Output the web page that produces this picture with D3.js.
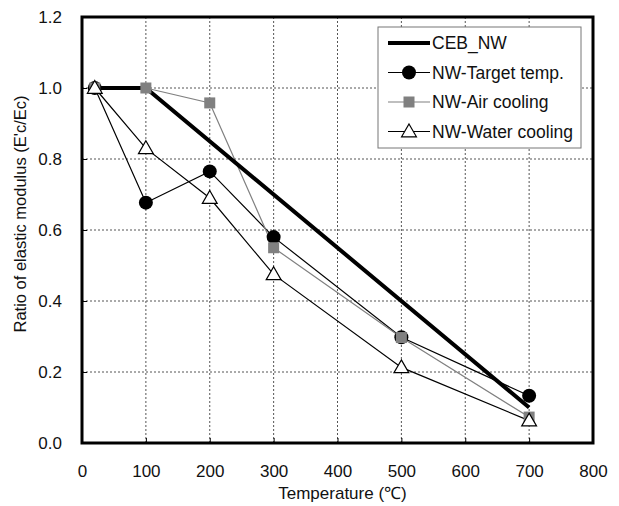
<!DOCTYPE html>
<html>
<head>
<meta charset="utf-8">
<script src="https://cdn.jsdelivr.net/npm/d3@7"></script>
<style>
  body { margin: 0; background: #fff; }
  text { font-family: "Liberation Sans", Arial, sans-serif; fill: #111; }
</style>
</head>
<body>
<div id="chart"></div>
<script>
var temps = [20, 100, 200, 300, 500, 700];
var ceb_temps = [20, 100, 700];
var ceb_nw = [1.0, 1.0, 0.1];
var target_temp = [1.0, 0.677, 0.765, 0.58, 0.298, 0.133];
var air_cooling = [1.0, 1.0, 0.958, 0.55, 0.297, 0.073];
var water_cooling = [1.0, 0.83, 0.69, 0.475, 0.213, 0.063];
var x_ticks = [0, 100, 200, 300, 400, 500, 600, 700, 800];
var y_ticks = [0, 0.2, 0.4, 0.6, 0.8, 1.0, 1.2];
var legend_names = ['CEB_NW', 'NW-Target temp.', 'NW-Air cooling', 'NW-Water cooling'];

var width = 619, height = 506;
var pLeft = 82, pRight = 593, pTop = 17, pBottom = 443;

var svg = d3.select('#chart').append('svg')
  .attr('width', width)
  .attr('height', height);

var x = d3.scaleLinear().domain([0, 800]).range([pLeft, pRight]);
var y = d3.scaleLinear().domain([0, 1.2]).range([pBottom, pTop]);

// grid
svg.append('g').selectAll('line')
  .data(x_ticks.slice(1, -1)).enter().append('line')
  .attr('x1', d => x(d)).attr('x2', d => x(d))
  .attr('y1', pTop).attr('y2', pBottom)
  .attr('stroke', '#555').attr('stroke-width', 1)
  .attr('stroke-dasharray', '2,2');

svg.append('g').selectAll('line')
  .data(y_ticks.slice(1, -1)).enter().append('line')
  .attr('y1', d => y(d)).attr('y2', d => y(d))
  .attr('x1', pLeft).attr('x2', pRight)
  .attr('stroke', '#555').attr('stroke-width', 1)
  .attr('stroke-dasharray', '2,2');

// axes
var xAxis = svg.append('g')
  .attr('transform', `translate(0, ${pBottom})`)
  .call(d3.axisBottom(x).tickValues(x_ticks).tickSize(-5).tickPadding(22).tickFormat(d3.format('d')));
var yAxis = svg.append('g')
  .attr('transform', `translate(${pLeft}, 0)`)
  .call(d3.axisLeft(y).tickValues(y_ticks).tickSize(-5).tickPadding(20).tickFormat(d3.format('.1f')));

[xAxis, yAxis].forEach(function(a) {
  a.attr('font-size', 17).attr('font-family', '"Liberation Sans", Arial, sans-serif');
  a.select('.domain').remove();
  a.selectAll('line').attr('stroke', '#000').attr('stroke-width', 1);
  a.selectAll('text').attr('fill', '#111');
});

// frame
svg.append('rect')
  .attr('x', pLeft).attr('y', pTop)
  .attr('width', pRight - pLeft).attr('height', pBottom - pTop)
  .attr('fill', 'none').attr('stroke', '#000').attr('stroke-width', 3);

var line = d3.line().x(d => x(d[0])).y(d => y(d[1]));

// series
var plot = svg.append('g');

var zip = (xs, ys) => xs.map((t, i) => [t, ys[i]]);

plot.append('path').datum(zip(temps, target_temp))
  .attr('d', line).attr('fill', 'none').attr('stroke', '#000').attr('stroke-width', 1.2);
plot.append('path').datum(zip(temps, air_cooling))
  .attr('d', line).attr('fill', 'none').attr('stroke', '#808080').attr('stroke-width', 1.2);
plot.append('path').datum(zip(temps, water_cooling))
  .attr('d', line).attr('fill', 'none').attr('stroke', '#000').attr('stroke-width', 1.2);
plot.append('path').datum(zip(ceb_temps, ceb_nw))
  .attr('d', line).attr('fill', 'none').attr('stroke', '#000').attr('stroke-width', 4);

var tri = d3.symbol().type(d3.symbolTriangle).size(95);

function drawCircle(g, cx, cy) {
  g.append('circle').attr('cx', cx).attr('cy', cy).attr('r', 7).attr('fill', '#000');
}
function drawSquare(g, cx, cy) {
  g.append('rect').attr('x', cx - 5.5).attr('y', cy - 5.5).attr('width', 11).attr('height', 11).attr('fill', '#808080');
}
function drawTri(g, cx, cy) {
  g.append('path').attr('d', tri).attr('transform', `translate(${cx}, ${cy + 1})`)
    .attr('fill', '#fff').attr('stroke', '#000').attr('stroke-width', 1.2);
}

zip(temps, target_temp).forEach(d => drawCircle(plot, x(d[0]), y(d[1])));
zip(temps, air_cooling).forEach(d => drawSquare(plot, x(d[0]), y(d[1])));
zip(temps, water_cooling).forEach(d => drawTri(plot, x(d[0]), y(d[1])));

// legend
var legend = svg.append('g');
legend.append('rect')
  .attr('x', 378).attr('y', 27).attr('width', 203).attr('height', 121)
  .attr('fill', '#fff').attr('stroke', '#777').attr('stroke-width', 1);

legend_names.forEach(function(name, i) {
  var ly = 43 + i * 29.5;
  var g = legend.append('g');
  g.append('line')
    .attr('x1', 388).attr('x2', 430).attr('y1', ly).attr('y2', ly)
    .attr('stroke', i == 2 ? '#808080' : '#000')
    .attr('stroke-width', i == 0 ? 4 : 1.2);
  if (i == 1) drawCircle(g, 409, ly);
  if (i == 2) drawSquare(g, 409, ly);
  if (i == 3) drawTri(g, 409, ly);
  g.append('text')
    .attr('x', 432).attr('y', ly + 6)
    .attr('font-size', 17.5)
    .text(name);
});

// axis titles
svg.append('text')
  .attr('x', (pLeft + pRight) / 2 + 5).attr('y', 499)
  .attr('text-anchor', 'middle').attr('font-size', 17)
  .text('Temperature (℃)');

svg.append('text')
  .attr('transform', `translate(26, 214) rotate(-90)`)
  .attr('text-anchor', 'middle').attr('font-size', 16.5)
  .text("Ratio of elastic modulus (E'c/Ec)");
</script>
</body>
</html>
